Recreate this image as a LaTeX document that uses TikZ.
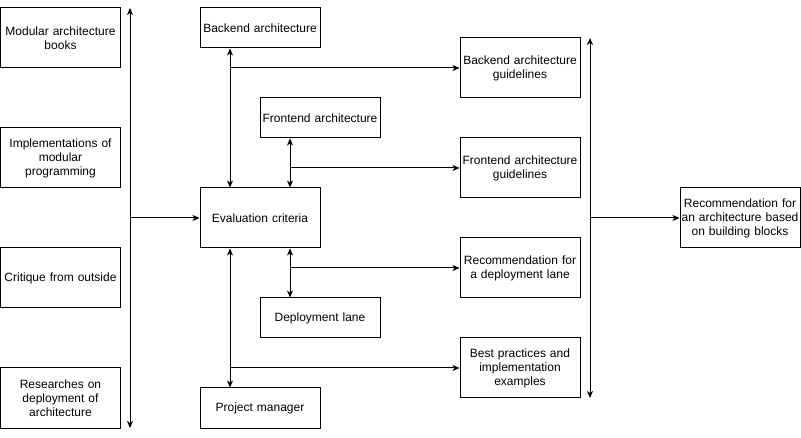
\documentclass[tikz,border=0pt]{standalone}
\usepackage{fontspec}
\setmainfont{Liberation Sans}
\usetikzlibrary{arrows.meta}
\begin{document}
\begin{tikzpicture}[x=1pt,y=-1pt,
  >={Stealth[length=7pt,width=6pt,inset=2pt]},
  every path/.style={line width=1pt},
  box/.style={draw, line width=1pt, rectangle, minimum width=120pt, inner sep=1pt,
    align=center, text width=118pt, font=\fontsize{12}{14}\selectfont},
  tall/.style={box, minimum height=60pt},
  short/.style={box, minimum height=40pt},
  conn/.style={line width=1pt}]
\useasboundingbox (0,0) rectangle (801,438);
% left column
\node[tall] (mab) at (60.5,38) {Modular architecture\\books};
\node[tall] (imp) at (60.5,158) {Implementations of\\modular\\programming};
\node[tall] (cri) at (60.5,278) {Critique from outside};
\node[tall] (res) at (60.5,398) {Researches on\\deployment of\\architecture};
% middle
\node[short] (bk) at (260,28) {Backend architecture};
\node[short] (fe) at (320,118) {Frontend architecture};
\node[tall] (ev) at (260,218) {Evaluation criteria};
\node[short] (dl) at (320,318) {Deployment lane};
\node[short] (pm) at (260,408) {Project manager};
% right column
\node[tall] (bg) at (520,68) {Backend architecture\\guidelines};
\node[tall] (fg) at (520,168) {Frontend architecture\\guidelines};
\node[tall] (rd) at (520,268) {Recommendation for\\a deployment lane};
\node[tall] (bp) at (520,368) {Best practices and\\implementation\\examples};
\node[tall] (rec) at (740,218) {Recommendation for\\an architecture based\\on building blocks};
% left bus
\coordinate (lt) at (130,8);
\coordinate (lb) at (130,428);
\coordinate (lm) at (130,218);
\draw[conn,<->] (lt) -- (lb);
\draw[conn,->] (lm) -- (ev.west);
% vertical links
\draw[conn,<->] ([xshift=-30pt]bk.south) -- ([xshift=-30pt]ev.north);
\draw[conn,<->] ([xshift=-30pt]fe.south) -- ([xshift=30pt]ev.north);
\draw[conn,<->] ([xshift=30pt]ev.south) -- ([xshift=-30pt]dl.north);
\draw[conn,<->] ([xshift=-30pt]ev.south) -- ([xshift=-30pt]pm.north);
% branches
\coordinate (b1) at (230,68);
\coordinate (b2) at (290,168);
\coordinate (b3) at (290,268);
\coordinate (b4) at (230,368);
\draw[conn,->] (b1) -- (bg.west);
\draw[conn,->] (b2) -- (fg.west);
\draw[conn,->] (b3) -- (rd.west);
\draw[conn,->] (b4) -- (bp.west);
% right bus
\coordinate (rt) at (590,38);
\coordinate (rb) at (590,398);
\coordinate (rm) at (590,218);
\draw[conn,<->] (rt) -- (rb);
\draw[conn,->] (rm) -- (rec.west);
\end{tikzpicture}
\end{document}
